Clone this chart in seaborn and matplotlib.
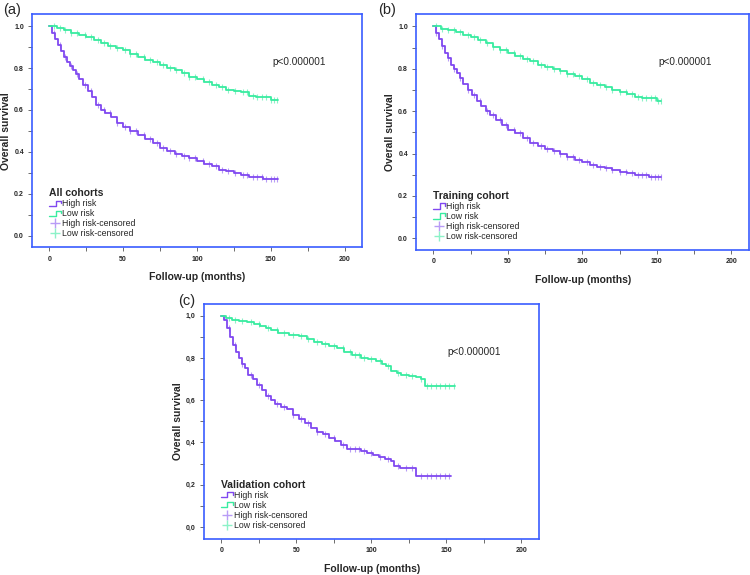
import numpy as np
import pandas as pd
import matplotlib
matplotlib.use("Agg")
import matplotlib.pyplot as plt
import seaborn as sns
from matplotlib.lines import Line2D
from matplotlib.legend_handler import HandlerBase
from matplotlib.ticker import MultipleLocator, FuncFormatter

sns.set_style("white")
plt.rcParams["font.family"] = ["Liberation Sans", "DejaVu Sans"]

# ---- data ----
# (a) all cohorts
a_high_t = [0, 2, 4, 6, 8, 10, 12, 14, 16, 18, 20, 23, 26, 29, 32, 35, 38, 42, 46, 50,
            55, 60, 65, 70, 75, 80, 85, 90, 95, 100, 105, 110, 115, 120, 125, 130, 135, 140, 145, 155]
a_high_s = [1.0, 0.97, 0.94, 0.91, 0.88, 0.855, 0.83, 0.81, 0.79, 0.77, 0.75, 0.72, 0.69, 0.66, 0.625, 0.60, 0.585, 0.565, 0.54, 0.52,
            0.50, 0.48, 0.46, 0.44, 0.42, 0.405, 0.39, 0.38, 0.37, 0.355, 0.34, 0.33, 0.315, 0.31, 0.30, 0.29, 0.28, 0.28, 0.27, 0.27]
a_low_t = [0, 5, 10, 15, 20, 25, 30, 35, 40, 45, 50, 55, 60, 65, 70, 75, 80, 85, 90, 95,
           100, 105, 110, 115, 120, 125, 130, 135, 140, 145, 150, 155]
a_low_s = [1.0, 0.99, 0.98, 0.97, 0.96, 0.95, 0.935, 0.92, 0.905, 0.895, 0.885, 0.87, 0.855, 0.84, 0.83, 0.815, 0.80, 0.79, 0.775, 0.76,
           0.75, 0.735, 0.72, 0.71, 0.695, 0.69, 0.685, 0.665, 0.66, 0.66, 0.65, 0.65]
a_cens = [3, 7, 11, 15, 19, 24, 28, 33, 37, 41, 46, 51, 55, 59, 64, 68, 73, 77, 82, 86,
          91, 95, 99, 104, 108, 113, 117, 121, 126, 131, 134, 138, 141, 144, 147, 150, 152, 154]

# (b) training cohort
b_high_t = [0, 2, 4, 6, 8, 10, 12, 14, 16, 18, 20, 23, 26, 29, 32, 35, 38, 42, 46, 50,
            55, 60, 65, 70, 75, 80, 85, 90, 95, 100, 105, 110, 115, 120, 125, 130, 135, 140, 145, 153]
b_high_s = [1.0, 0.97, 0.94, 0.91, 0.875, 0.85, 0.82, 0.80, 0.78, 0.755, 0.73, 0.70, 0.675, 0.65, 0.625, 0.60, 0.58, 0.56, 0.535, 0.51,
            0.495, 0.475, 0.45, 0.435, 0.42, 0.41, 0.40, 0.385, 0.37, 0.36, 0.345, 0.335, 0.33, 0.32, 0.315, 0.31, 0.30, 0.30, 0.29, 0.29]
b_low_t = [0, 5, 10, 15, 20, 25, 30, 35, 40, 45, 50, 55, 60, 65, 70, 75, 80, 85, 90, 95,
           100, 105, 110, 115, 120, 125, 130, 135, 140, 145, 150, 153]
b_low_s = [1.0, 0.99, 0.985, 0.975, 0.96, 0.95, 0.935, 0.92, 0.905, 0.89, 0.875, 0.86, 0.845, 0.835, 0.82, 0.81, 0.80, 0.79, 0.775, 0.765,
           0.75, 0.735, 0.725, 0.715, 0.70, 0.69, 0.68, 0.665, 0.66, 0.66, 0.65, 0.65]
b_cens = [2, 6, 10, 14, 18, 23, 27, 31, 36, 40, 45, 49, 54, 58, 63, 67, 72, 76, 81, 85,
          90, 94, 98, 103, 107, 112, 116, 120, 125, 129, 133, 137, 140, 143, 146, 149, 151, 153]

# (c) validation cohort
c_high_t = [0, 2, 4, 6, 8, 10, 12, 14, 16, 18, 21, 24, 27, 30, 33, 36, 40, 44, 48, 52,
            56, 60, 64, 68, 72, 76, 80, 84, 88, 93, 97, 101, 105, 109, 113, 115, 119, 125, 130, 153]
c_high_s = [1.0, 0.98, 0.94, 0.90, 0.86, 0.83, 0.80, 0.77, 0.75, 0.72, 0.70, 0.67, 0.65, 0.62, 0.60, 0.58, 0.57, 0.56, 0.53, 0.51,
            0.49, 0.47, 0.45, 0.44, 0.42, 0.405, 0.39, 0.37, 0.37, 0.36, 0.35, 0.34, 0.33, 0.32, 0.31, 0.29, 0.28, 0.28, 0.24, 0.24]
c_low_t = [0, 3, 7, 12, 17, 22, 26, 30, 33, 38, 45, 52, 57, 62, 67, 72, 77, 82, 87, 93,
           98, 103, 107, 110, 113, 117, 120, 125, 130, 133, 136, 156]
c_low_s = [1.0, 0.99, 0.98, 0.975, 0.97, 0.96, 0.95, 0.94, 0.93, 0.92, 0.91, 0.905, 0.89, 0.875, 0.865, 0.855, 0.845, 0.83, 0.815, 0.80,
           0.795, 0.785, 0.77, 0.76, 0.74, 0.73, 0.72, 0.715, 0.71, 0.70, 0.665, 0.665]
c_cens = [5, 9, 14, 20, 25, 31, 37, 42, 48, 53, 58, 64, 69, 75, 81, 86, 89, 92, 95, 100,
          106, 111, 118, 123, 127, 133, 137, 140, 143, 146, 149, 152, 155]

panel_labels = ["(a)", "(b)", "(c)"]
cohort_names = ["All cohorts", "Training cohort", "Validation cohort"]
p_text = "p<0.000001"

HIGH = "#8048f0"
LOW = "#38eca0"
HIGH_C = "#b89cf6"
LOW_C = "#8cf2c8"
SPINE = "#3a5cff"


class StepHandler(HandlerBase):
    # little step-shaped legend key like the original software draws
    def create_artists(self, legend, orig_handle, xdescent, ydescent, width, height, fontsize, trans):
        x0, x1 = -xdescent, -xdescent + width
        xm = x0 + 0.55 * width
        y0, y1 = -ydescent + 0.1 * height, -ydescent + 0.95 * height
        line = Line2D([x0, xm, xm, x1, x1], [y0, y0, y1, y1, 0.5 * (y0 + y1)],
                      color=orig_handle.get_color(), lw=1.0, transform=trans)
        return [line]


fig = plt.figure(figsize=(7.5, 5.75), dpi=100)
positions = [
    [0.043, 0.570, 0.440, 0.405],
    [0.555, 0.565, 0.444, 0.410],
    [0.272, 0.063, 0.447, 0.409],
]
label_xy = [(0.004, 0.970), (0.504, 0.970), (0.237, 0.465)]
panels = [
    (a_high_t, a_high_s, a_low_t, a_low_s, a_cens),
    (b_high_t, b_high_s, b_low_t, b_low_s, b_cens),
    (c_high_t, c_high_s, c_low_t, c_low_s, c_cens),
]


def step_at(t, s, x):
    idx = np.searchsorted(t, x, side="right") - 1
    return np.asarray(s)[idx]


for i, (pos, (ht, hs, lt, ls, cens)) in enumerate(zip(positions, panels)):
    ax = fig.add_axes(pos)
    sns.lineplot(x=ht, y=hs, ax=ax, color=HIGH, lw=1.3, drawstyle="steps-post")
    sns.lineplot(x=lt, y=ls, ax=ax, color=LOW, lw=1.3, drawstyle="steps-post")

    hc = [c for c in cens if c <= ht[-1]]
    lc = [c for c in cens if c <= lt[-1]]
    sns.scatterplot(x=hc, y=step_at(ht, hs, hc), ax=ax, marker="|", s=22,
                    color=HIGH_C, linewidth=0.8)
    sns.scatterplot(x=lc, y=step_at(lt, ls, lc), ax=ax, marker="|", s=22,
                    color=LOW_C, linewidth=0.8)

    ax.set_xlim(-11.5, 212)
    ax.set_ylim(-0.056, 1.057)
    ax.xaxis.set_major_locator(MultipleLocator(50))
    ax.xaxis.set_minor_locator(MultipleLocator(25))
    ax.yaxis.set_major_locator(MultipleLocator(0.2))
    ax.yaxis.set_minor_locator(MultipleLocator(0.1))
    if i == 2:
        ax.yaxis.set_major_formatter(FuncFormatter(lambda v, p: f"{v:.1f}".replace(".", ",")))
    else:
        ax.yaxis.set_major_formatter(FuncFormatter(lambda v, p: f"{v:.1f}"))
    ax.tick_params(axis="both", which="both", direction="out", length=3, width=0.6,
                   color="#555555", labelsize=5, pad=3)
    for lab in ax.get_xticklabels() + ax.get_yticklabels():
        lab.set_fontweight("bold")
    ax.xaxis.set_ticks_position("bottom")
    ax.yaxis.set_ticks_position("left")
    for sp in ax.spines.values():
        sp.set_visible(True)
        sp.set_color(SPINE)
        sp.set_linewidth(1.2)

    ax.set_xlabel("Follow-up (months)", fontsize=7.5, fontweight="bold", labelpad=7)
    ax.set_ylabel("Overall survival", fontsize=7.5, fontweight="bold", labelpad=2)
    ax.text(151, 0.83, p_text, fontsize=7.2, ha="left", va="center")

    step_high = Line2D([], [], color=HIGH)
    step_low = Line2D([], [], color=LOW)
    handles = [
        step_high,
        step_low,
        Line2D([], [], color=HIGH_C, lw=0, marker="+", markersize=7),
        Line2D([], [], color=LOW_C, lw=0, marker="+", markersize=7),
    ]
    leg = ax.legend(handles, ["High risk", "Low risk", "High risk-censored", "Low risk-censored"],
                    title=cohort_names[i], loc="lower left", bbox_to_anchor=(0.025, 0.0),
                    frameon=False, fontsize=6.3, handlelength=1.3, handletextpad=0.15,
                    labelspacing=0.12, borderaxespad=0.6,
                    handler_map={step_high: StepHandler(), step_low: StepHandler()})
    leg.get_title().set_fontweight("bold")
    leg.get_title().set_fontsize(7.5)
    leg._legend_box.align = "left"

    fig.text(label_xy[i][0], label_xy[i][1], panel_labels[i], fontsize=10.5,
             ha="left", va="bottom")

fig.savefig("out.png", dpi=100)
